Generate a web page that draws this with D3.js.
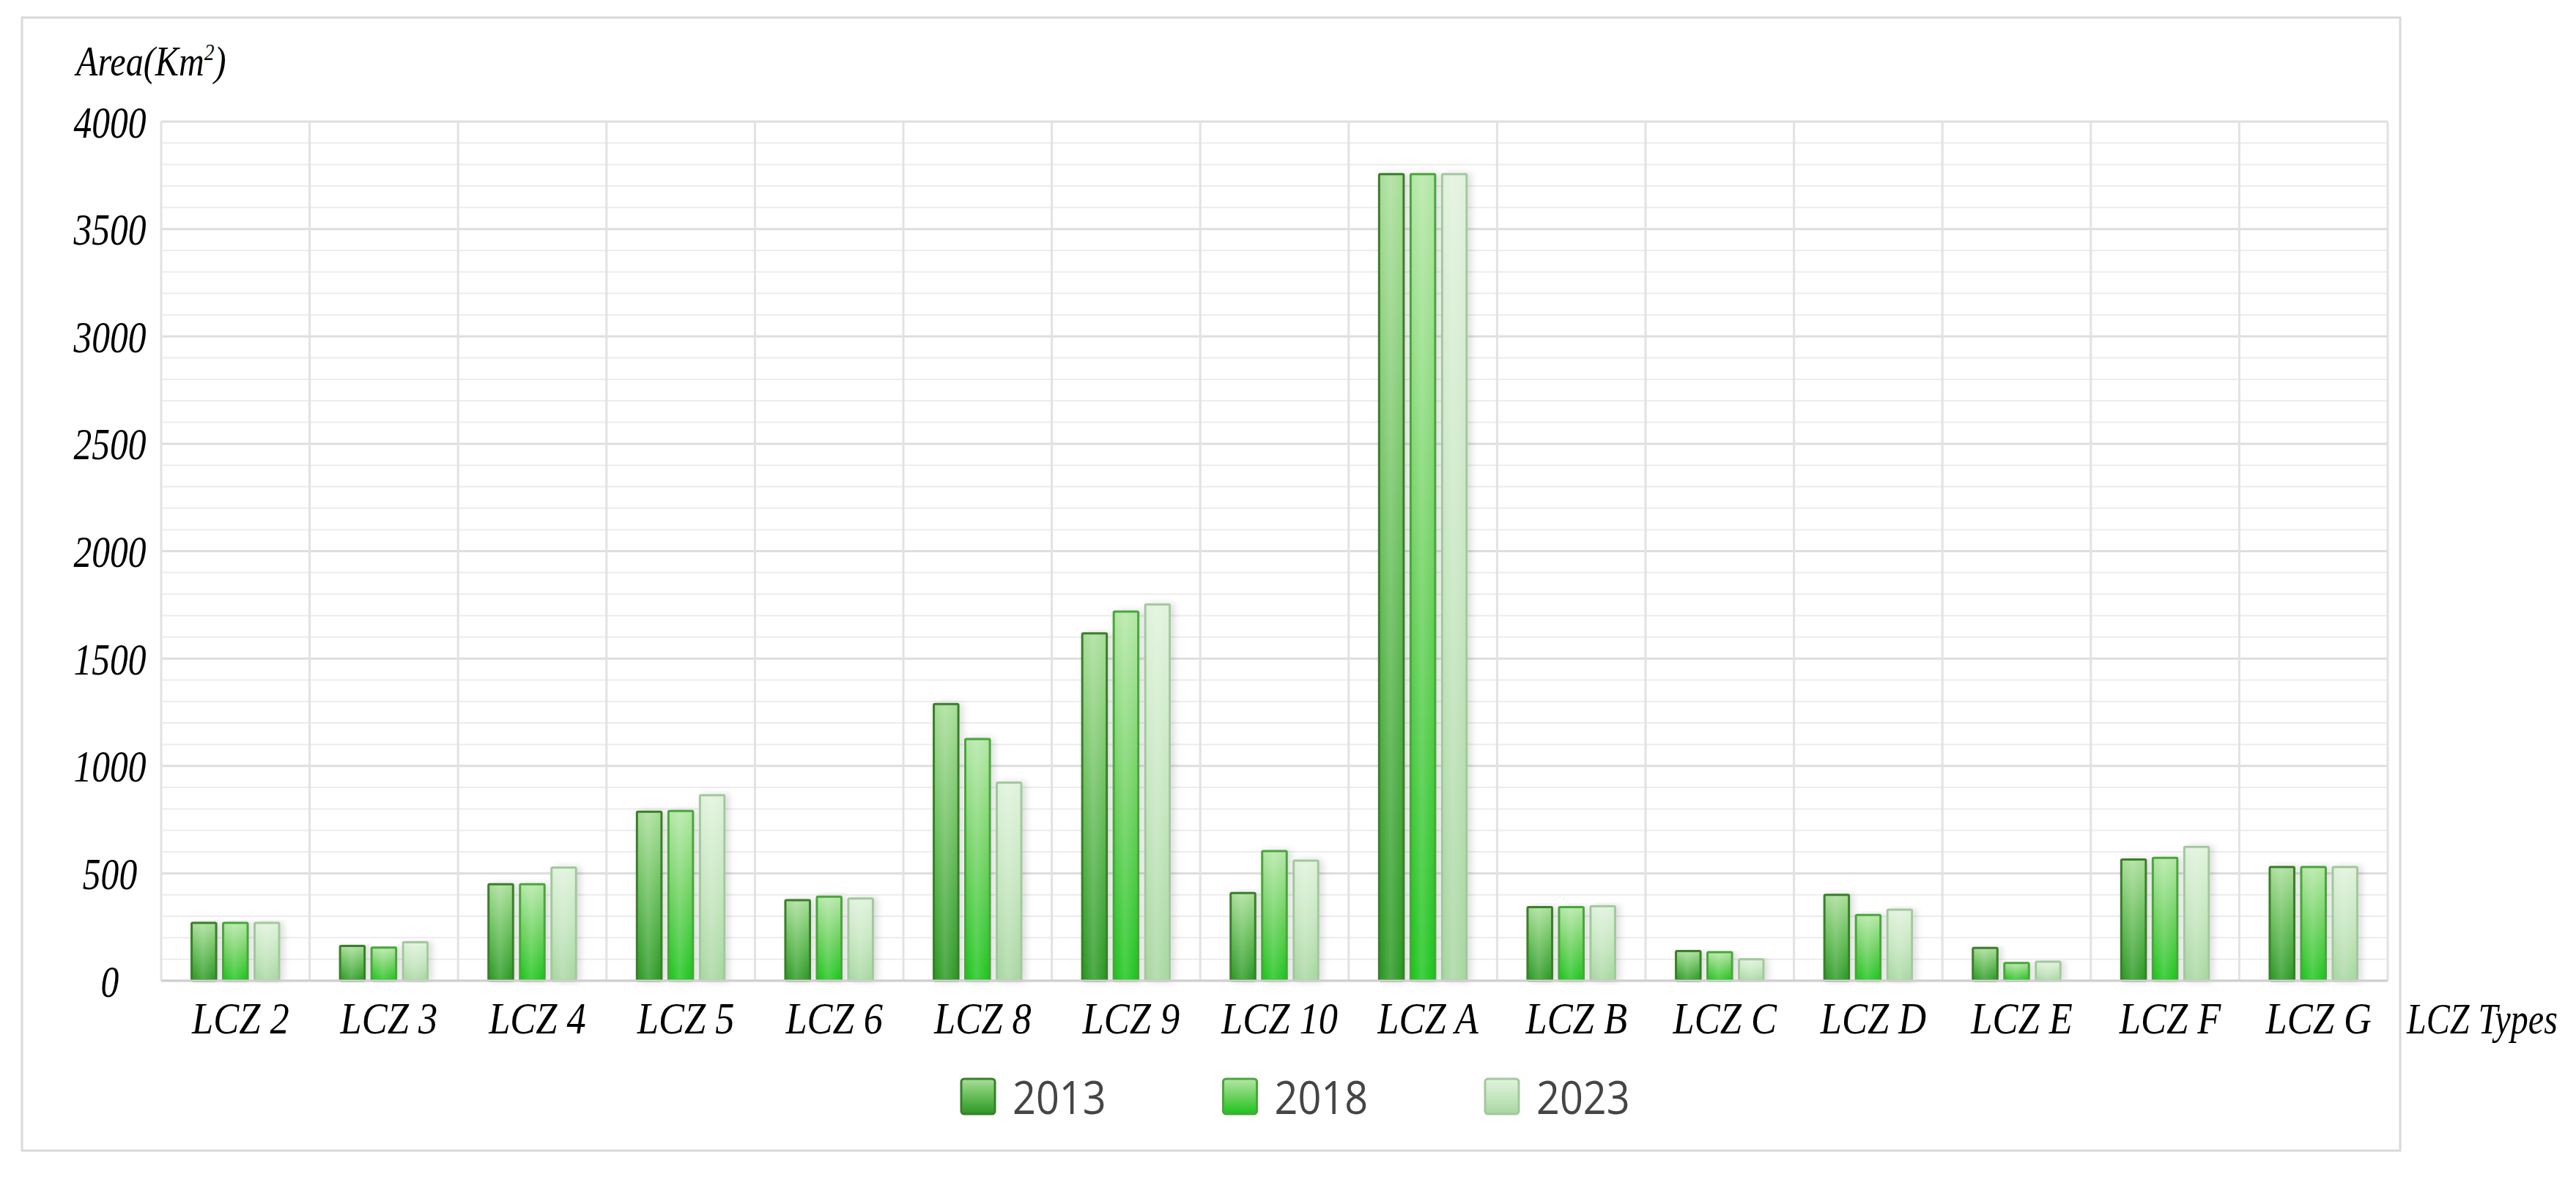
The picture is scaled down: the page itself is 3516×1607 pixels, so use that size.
<!DOCTYPE html>
<html>
<head>
<meta charset="utf-8">
<script src="https://cdn.jsdelivr.net/npm/d3@7"></script>
<style>
  html, body { margin: 0; padding: 0; background: #ffffff; }
  svg { display: block; }
</style>
</head>
<body>
<svg id="chart" width="3516" height="1607"></svg>
<script>
// ---------------- data ----------------
const categories = ["LCZ 2","LCZ 3","LCZ 4","LCZ 5","LCZ 6","LCZ 8","LCZ 9","LCZ 10","LCZ A","LCZ B","LCZ C","LCZ D","LCZ E","LCZ F","LCZ G"];
const years = ["2013","2018","2023"];
const values2013 = [269, 162, 449, 787, 375, 1288, 1617, 408, 3755, 343, 138, 400, 153, 564, 529];
const values2018 = [269, 154, 449, 790, 391, 1125, 1719, 604, 3755, 343, 133, 306,  83, 572, 529];
const values2023 = [269, 179, 527, 864, 383,  922, 1752, 559, 3755, 347, 100, 331,  89, 623, 529];
const yTickValues = [0, 500, 1000, 1500, 2000, 2500, 3000, 3500, 4000];
const yAxisTitle = "Area(Km";
const xAxisTitle = "LCZ Types";

const seriesValues = [values2013, values2018, values2023];

// ---------------- layout ----------------
const svg = d3.select("#chart");
const plot = { left: 220, right: 3259, top: 166, bottom: 1339 };
const serif = "'Liberation Serif', 'Times New Roman', serif";
const sans = "'Open Sans', 'Noto Sans', sans-serif";

const x0 = d3.scaleBand().domain(categories).range([plot.left, plot.right]).padding(0);
const bw = x0.bandwidth();
const groupW = 119.5;
const x1 = d3.scaleBand().domain(years).range([bw / 2 - groupW / 2, bw / 2 + groupW / 2]).paddingInner(0.22).paddingOuter(0);
const y = d3.scaleLinear().domain([0, 4000]).range([plot.bottom, plot.top]);

// ---------------- defs ----------------
const defs = svg.append("defs");
const grads = [
  { id: "g2013", stops: [["0%", "#a9de99"], ["45%", "#6cc05e"], ["100%", "#2a9823"]], stroke: "#3a7e2b", sw: 3 },
  { id: "g2018", stops: [["0%", "#b4e7a6"], ["50%", "#6dd15e"], ["100%", "#1dc41d"]], stroke: "#49a63a", sw: 3 },
  { id: "g2023", stops: [["0%", "#e0f2dc"], ["55%", "#c3e5bd"], ["100%", "#a7d6a0"]], stroke: "#a2c89d", sw: 3 }
];
grads.forEach(g => {
  const lg = defs.append("linearGradient").attr("id", g.id).attr("x1", 0).attr("y1", 0).attr("x2", 0).attr("y2", 1);
  g.stops.forEach(s => lg.append("stop").attr("offset", s[0]).attr("stop-color", s[1]));
});
const shine = defs.append("linearGradient").attr("id", "shine").attr("x1", 0).attr("y1", 0).attr("x2", 1).attr("y2", 0);
shine.append("stop").attr("offset", "0%").attr("stop-color", "#ffffff").attr("stop-opacity", 0);
shine.append("stop").attr("offset", "45%").attr("stop-color", "#ffffff").attr("stop-opacity", 0.18);
shine.append("stop").attr("offset", "100%").attr("stop-color", "#ffffff").attr("stop-opacity", 0);
const shadow = defs.append("filter").attr("id", "shadow").attr("x", "-30%").attr("y", "-5%").attr("width", "180%").attr("height", "110%");
shadow.append("feDropShadow").attr("dx", 5).attr("dy", 0).attr("stdDeviation", 5)
  .attr("flood-color", "#000000").attr("flood-opacity", 0.13);

// ---------------- frame ----------------
svg.append("rect").attr("x", 30).attr("y", 24).attr("width", 3276 - 30).attr("height", 1571 - 24)
  .attr("fill", "#ffffff").attr("stroke", "#d9d9d9").attr("stroke-width", 3);

// ---------------- grid ----------------
const grid = svg.append("g");
const minorTicks = y.ticks(40);
grid.selectAll("line.h").data(minorTicks).join("line")
  .attr("x1", plot.left).attr("x2", plot.right)
  .attr("y1", d => y(d)).attr("y2", d => y(d))
  .attr("stroke", d => d % 500 === 0 ? "#dedede" : "#ececec")
  .attr("stroke-width", d => d % 500 === 0 ? 3 : 2);
grid.selectAll("line.v").data(categories.concat(["__end"])).join("line")
  .attr("x1", d => d === "__end" ? plot.right : x0(d))
  .attr("x2", d => d === "__end" ? plot.right : x0(d))
  .attr("y1", plot.top).attr("y2", plot.bottom)
  .attr("stroke", "#e2e2e2").attr("stroke-width", 3);

// ---------------- bars ----------------
const barsG = svg.append("g");
const groups = barsG.selectAll("g.cat").data(categories).join("g")
  .attr("transform", d => `translate(${x0(d)},0)`);
years.forEach((yr, si) => {
  groups.append("rect")
    .attr("x", x1(yr)).attr("width", x1.bandwidth())
    .attr("y", (d, i) => y(seriesValues[si][i]))
    .attr("height", (d, i) => y(0) - y(seriesValues[si][i]))
    .attr("fill", `url(#${grads[si].id})`)
    .attr("stroke", grads[si].stroke).attr("stroke-width", grads[si].sw)
    .attr("rx", 1.5)
    .attr("filter", "url(#shadow)");
  groups.append("rect")
    .attr("x", x1(yr) + 2).attr("width", x1.bandwidth() - 4)
    .attr("y", (d, i) => y(seriesValues[si][i]) + 2)
    .attr("height", (d, i) => Math.max(0, y(0) - y(seriesValues[si][i]) - 4))
    .attr("fill", "url(#shine)");
});

// baseline axis line
svg.append("line").attr("x1", plot.left).attr("x2", plot.right).attr("y1", plot.bottom).attr("y2", plot.bottom)
  .attr("stroke", "#cfcfcf").attr("stroke-width", 3);

// ---------------- axes ----------------
const ySX = 0.8;
const yAxisG = svg.append("g").attr("transform", `translate(${plot.left},0)`)
  .call(d3.axisLeft(y).tickValues(yTickValues).tickSize(0).tickFormat(d3.format("d")));
yAxisG.select(".domain").remove();
yAxisG.selectAll("text")
  .attr("x", -70 / ySX).attr("dy", "0.34em")
  .attr("transform", `scale(${ySX},1)`)
  .style("font-family", serif).style("font-style", "italic").style("font-size", "62px")
  .style("fill", "#000").attr("text-anchor", "middle");

const xSX = 0.86;
const xAxisG = svg.append("g").attr("transform", `translate(0,${plot.bottom})`)
  .call(d3.axisBottom(x0).tickSize(0));
xAxisG.select(".domain").remove();
xAxisG.selectAll("text")
  .attr("x", 7 / xSX).attr("y", 72).attr("dy", 0)
  .attr("transform", `scale(${xSX},1)`)
  .style("font-family", serif).style("font-style", "italic").style("font-size", "61px")
  .style("fill", "#000").attr("text-anchor", "middle");

// axis titles
const yt = svg.append("text").attr("transform", "translate(104,103) scale(0.86,1)")
  .style("font-family", serif).style("font-style", "italic").style("font-size", "56px").style("fill", "#000");
yt.append("tspan").text(yAxisTitle);
yt.append("tspan").text("2").style("font-size", "32px").attr("dy", -21);
yt.append("tspan").text(")").attr("dy", 21);

svg.append("text").attr("transform", "translate(3285,1411) scale(0.8,1)")
  .style("font-family", serif).style("font-style", "italic").style("font-size", "60px").style("fill", "#000")
  .text(xAxisTitle);

// ---------------- legend ----------------
const legend = svg.append("g");
const legendX = d3.scalePoint().domain(years).range([1312, 2027]);
years.forEach((yr, si) => {
  const gx = legendX(yr);
  legend.append("rect").attr("x", gx).attr("y", 1473).attr("width", 46).attr("height", 48).attr("rx", 4)
    .attr("fill", `url(#${grads[si].id})`).attr("stroke", grads[si].stroke).attr("stroke-width", 3);
  legend.append("text").attr("transform", `translate(${gx + 70},1521) scale(0.9,1)`)
    .style("font-family", sans).style("font-size", "62px").style("fill", "#454545")
    .text(yr);
});
</script>
</body>
</html>
